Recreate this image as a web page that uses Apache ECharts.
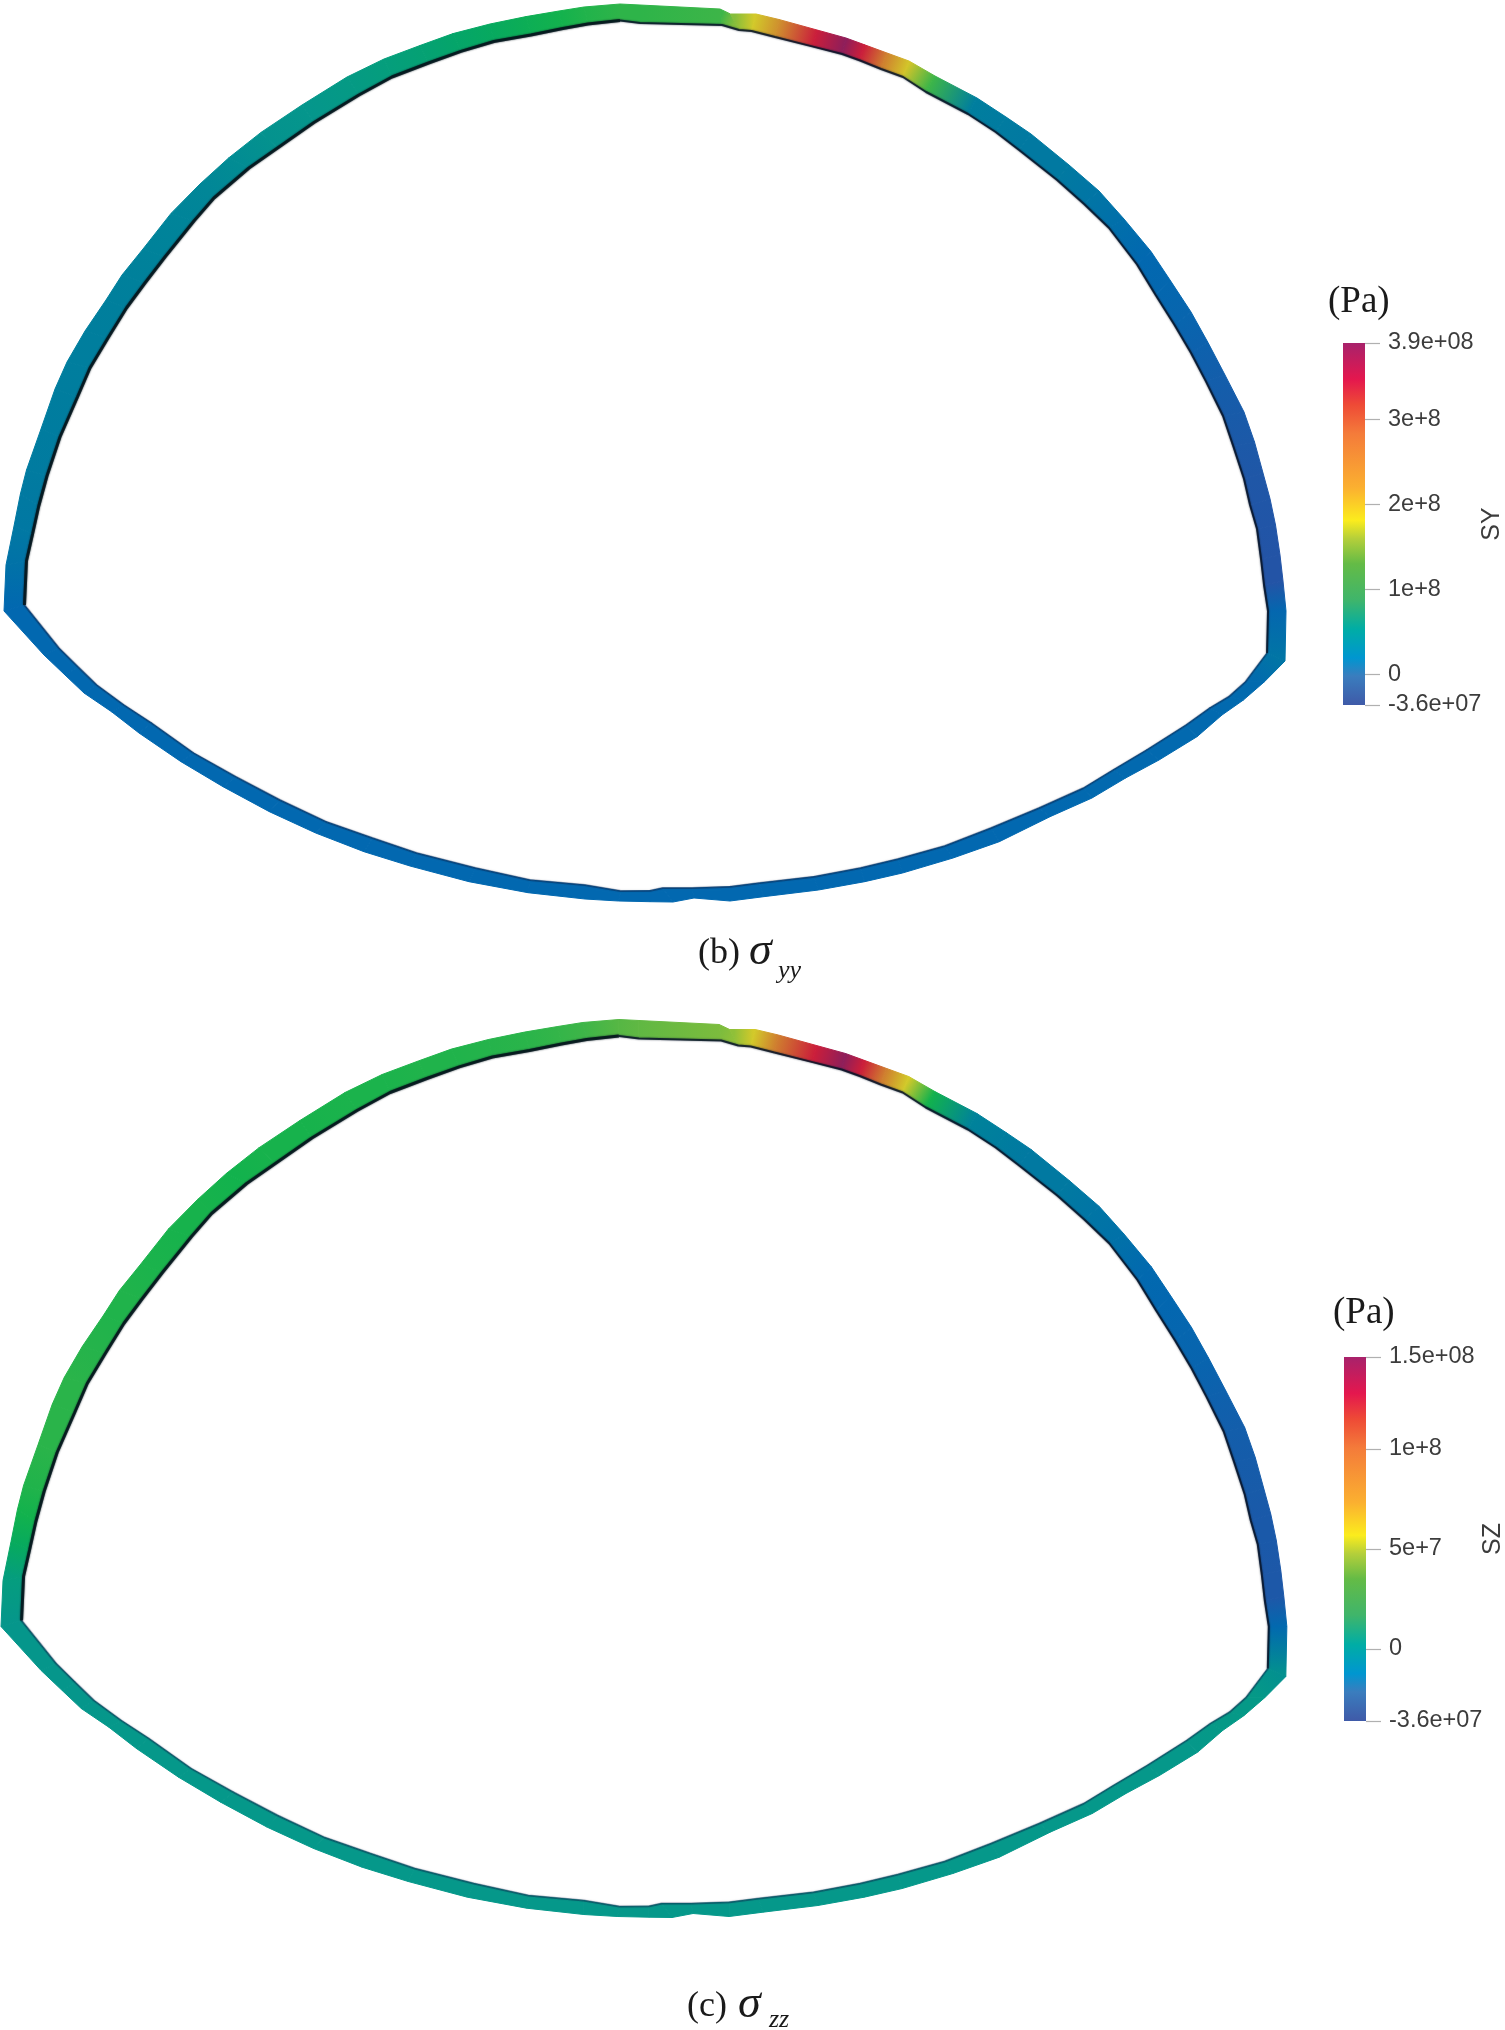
<!DOCTYPE html>
<html><head><meta charset="utf-8">
<style>html,body{margin:0;padding:0;background:#fff}#c{width:1505px;height:2030px}</style>
<script src="https://cdn.jsdelivr.net/npm/echarts@6/dist/echarts.min.js"></script>
</head><body><div id="c"></div>
<script>
// Ring cross-section: paired points on the outer and inner edge, clockwise from the left tip
const outerX=[4,6,14,20.4,26.5,41,55,67,85,106,122,143,171,200,228.6,261,302,347,384,420,453,490,526,559,584,620,
 640,720,730.5,756,779,817,846,864,887,909,935,977,1006,1031,1069,1099,1124,1151,1170,1191,1208,1225,1244,1254.5,1263,1270,1275.5,1280,1283,1286,1285,
 1264.5,1243.4,1222,1197,1159,1125.6,1092,1050,999.3,953,902.5,864.6,818.4,763.6,730,694,673,650,
 618.7,585,528,469,410,364,315.7,269.4,223,181,139,111.5,84,65,44];
const outerY=[611,565,526,494,470,429,389,362,331,300,275,249,213.4,184,158,132.4,105,77,59,45.5,33.6,24,16.6,11,7,4,
 5,9,14,14,19.5,30,38,44.6,53,61,76,98,117,134,165,191,219,251.5,280,312,342.6,375,412,442,473,498.7,525,555,581,611,661,
 681.7,700,715,736.7,760,778,798,816.7,841.7,858,873,881.7,890,896.7,901,898,902,901.7,
 901,899,892.7,881.7,866,851.7,833,811.7,786.7,761.7,733,711.7,693,675,655];
const innerX=[24.5,26.5,32.6,38.8,47,60,77.5,90,108,126.5,145,165,194,214,249,277.6,314,359,392,428.6,461,494,531,563,588,620,
 640,722,739,751.5,775,813,842,860,881,903,926,968,995.6,1019,1057,1084,1109,1137,1155.6,1174.5,1191,1206,1223,1233.4,1244,1250,1257,1261,1264,1268,1267,
 1245.5,1228.7,1209.7,1186,1146.6,1113,1083.5,1039,991,944.6,898,860.4,814,759.4,730,692,662.6,650,
 620.8,585,530,475.6,416.7,372.5,326,280,235.7,193.6,151.5,124,96.8,78,59];
const innerY=[605,561,534,506,476,437,397,368,338,308,283,257,221,198,168,148,122.5,95,77,63,51.4,41.5,35,28.5,24,20.5,
 23,25,30,31,37,46.6,54,60.5,69,77,92,114,132,150,180,204,228,264.5,295,325,353,381.6,416,446.6,479,505,529,559,585,611,653,
 681.7,696.7,708,725,750,770,788,808,828,846,859,868,876.7,883,886.7,888,888,890.7,
 891,885,880,868,853,838,821.7,800,776.7,753,723,705,685,666.7,648];

// Stress at those points, read through the colours (Pa)
const sigmaYY=[0,12e6,18e6,20e6,22e6,23e6,24e6,25e6,26e6,27e6,28e6,30e6,32e6,35e6,42e6,50e6,55e6,62e6,68e6,75e6,82e6,90e6,98e6,105e6,112e6,118e6,
 118e6,125e6,160e6,200e6,255e6,335e6,390e6,335e6,270e6,205e6,125e6,25e6,22e6,20e6,20e6,15e6,8e6,0,-2e6,-5e6,-10e6,-15e6,-20e6,-23e6,-26e6,-27e6,-28e6,-30e6,-30e6,-2e6,15e6,
 3e6,2e6,1e6,1e6,1e6,1e6,1e6,0,0,0,0,0,0,0,0,0,0,0,
 0,0,0,0,0,0,0,0,0,0,0,0,0,0,0];
const sigmaZZ=[3e6,8e6,18e6,24e6,27e6,29e6,29e6,29e6,28e6,27e6,27e6,26e6,25e6,25e6,24e6,25e6,25e6,26e6,26e6,27e6,27e6,28e6,29e6,31e6,33e6,38e6,
 40e6,46e6,50e6,65e6,95e6,122e6,146e6,122e6,95e6,65e6,24e6,-8e6,-10e6,-12e6,-12e6,-14e6,-16e6,-20e6,-21e6,-22e6,-23e6,-25e6,-27e6,-28e6,-29e6,-30e6,-30e6,-31e6,-31e6,-20e6,0,
 5e6,5e6,5e6,4e6,4e6,4e6,4e6,4e6,4e6,4e6,4e6,4e6,4e6,4e6,4e6,4e6,4e6,4e6,
 4e6,4e6,4e6,4e6,4e6,4e6,4e6,4e6,4e6,4e6,4e6,4e6,3e6,3e6,3e6];

// Colour bars
const yyRange=[-3.6e7,3.9e8];
const zzRange=[-3.6e7,1.46e8];
const yyTicks=[3.9e8,3e8,2e8,1e8,0,-3.6e7];
const yyTickLabels=['3.9e+08','3e+8','2e+8','1e+8','0','-3.6e+07'];
const zzTicks=[1.46e8,1e8,5e7,0,-3.6e7];
const zzTickLabels=['1.5e+08','1e+8','5e+7','0','-3.6e+07'];

// Colour ramps: ring colours as rendered with lighting, bar colours as in the legend
const ringStops=[0,.085,.155,.22,.29,.33,.42,.55,.7,.86,1];
const ringColors=['#2A50A4','#0268B0','#00829A','#05988A','#05A862','#12B24D','#62B843','#D2CB2A','#CF8B2E','#CF1E38','#8E1E5A'];
const barStops=[0,.08,.13,.21,.29,.39,.46,.51,.6,.75,.83,.9,1];
const barColors=['#3F5AA8','#3A7DBE','#0096D0','#00ADA5','#3FB56B','#64BB46','#B5CF3A','#FBEC1D','#FBB030','#F47B3A','#EE4A36','#E4174E','#A8226B'];

function ramp(t){
  t=Math.max(0,Math.min(1,t));
  for(let i=1;i<ringStops.length;i++){
    if(t<=ringStops[i]){
      const f=(t-ringStops[i-1])/(ringStops[i]-ringStops[i-1]);
      return echarts.color.lerp(f,[ringColors[i-1],ringColors[i]]);
    }
  }
  return ringColors[ringColors.length-1];
}
const n=outerX.length;
function rows(vals){
  return outerX.map((_,i)=>{const j=(i+1)%n;
    return [outerX[i],outerY[i],innerX[i],innerY[i],outerX[j],outerY[j],innerX[j],innerY[j],vals[i],vals[j]];});
}
function ringSeries(idx,vals,range){
  return {type:'custom',xAxisIndex:idx,yAxisIndex:idx,clip:false,silent:true,z:2,
    data:rows(vals),encode:{x:[0,2,4,6],y:[1,3,5,7]},
    renderItem:function(p,api){
      const P=k=>api.coord([api.value(k),api.value(k+1)]);
      const a=P(0),b=P(2),c=P(6),d=P(4);
      const t=v=>(v-range[0])/(range[1]-range[0]);
      const m0=[(a[0]+b[0])/2,(a[1]+b[1])/2],m1=[(c[0]+d[0])/2,(c[1]+d[1])/2];
      const g=new echarts.graphic.LinearGradient(m0[0],m0[1],m1[0],m1[1],
        [{offset:0,color:ramp(t(api.value(8)))},{offset:1,color:ramp(t(api.value(9)))}],true);
      return {type:'polygon',shape:{points:[a,d,c,b]},style:{fill:g,stroke:g,lineWidth:1}};
    }};
}
function edgeSeries(idx,pts,color,w){
  return {type:'line',xAxisIndex:idx,yAxisIndex:idx,data:pts,showSymbol:false,silent:true,z:3,clip:false,
    lineStyle:{color:color,width:w,shadowBlur:2,shadowColor:color}};
}
const innerPts=innerX.map((x,i)=>[x,innerY[i]]);
const topMid=innerX.indexOf(620);
const rightTip=innerX.indexOf(1267);
const edgeLeft=innerPts.slice(0,topMid+1);
const edgeRight=innerPts.slice(topMid,rightTip+1);
const edgeBottom=innerPts.slice(rightTip).concat([innerPts[0]]);
function edges(idx){
  return [edgeSeries(idx,edgeLeft,'rgba(5,22,28,0.88)',3),
          edgeSeries(idx,edgeRight,'rgba(8,20,40,0.8)',2),
          edgeSeries(idx,edgeBottom,'rgba(10,30,70,0.4)',2)];
}

function barSeries(idx,range){
  return {type:'custom',xAxisIndex:idx,yAxisIndex:idx,silent:true,z:2,clip:false,
    data:[[0,range[0],1,range[1]]],encode:{x:[0,2],y:[1,3]},
    renderItem:function(p,api){
      const a=api.coord([api.value(0),api.value(3)]),b=api.coord([api.value(2),api.value(1)]);
      return {type:'rect',shape:{x:a[0],y:a[1],width:b[0]-a[0],height:b[1]-a[1]},
        style:{fill:new echarts.graphic.LinearGradient(0,1,0,0,barStops.map((s,i)=>({offset:s,color:barColors[i]})))}};
    }};
}
function barAxis(idx,range,ticks,labels,name){
  return {gridIndex:idx,type:'value',position:'right',min:range[0],max:range[1],splitLine:{show:false},
    axisLine:{show:false,onZero:false},z:5,
    axisTick:{show:true,inside:false,length:15,customValues:ticks,lineStyle:{color:'#b0b0b0',width:1.2}},
    axisLabel:{show:true,margin:23,customValues:ticks,hideOverlap:false,showMinLabel:true,showMaxLabel:true,
      fontFamily:'Liberation Sans',fontSize:23.5,color:'#3c3c3c',align:'left',verticalAlign:'middle',padding:[3,0,0,0],
      formatter:v=>labels[ticks.indexOf(v)]},
    name:name,nameLocation:'middle',nameRotate:90,nameGap:127,nameMoveOverlap:false,
    nameTextStyle:{fontFamily:'Liberation Sans',fontSize:25,color:'#3c3c3c',verticalAlign:'middle'}};
}
function hiddenX(idx,min,max){return {gridIndex:idx,type:'value',min:min,max:max,show:false,splitLine:{show:false}};}
function hiddenRingY(idx){return {gridIndex:idx,type:'value',min:0,max:1000,inverse:true,show:false,splitLine:{show:false}};}
function txt(x,y,text,size,italic,color){
  return {type:'text',x:x,y:y,silent:true,style:{text:text,fill:color||'#1a1a1a',
    font:(italic?'italic ':'')+size+'px "Liberation Serif"',textVerticalAlign:'middle'}};
}

const chart=echarts.init(document.getElementById('c'),null,{renderer:'canvas'});
chart.setOption({
  animation:false,backgroundColor:'#fff',
  grid:[
    {left:0,top:0,width:1505,height:1000,outerBoundsMode:'none'},
    {left:-3,top:1015.5,width:1509.5,height:1000,outerBoundsMode:'none'},
    {left:1343,top:343,width:22,height:362,outerBoundsMode:'none'},
    {left:1344,top:1357,width:22,height:364,outerBoundsMode:'none'}
  ],
  xAxis:[hiddenX(0,0,1505),hiddenX(1,0,1505),hiddenX(2,0,1),hiddenX(3,0,1)],
  yAxis:[hiddenRingY(0),hiddenRingY(1),
    barAxis(2,yyRange,yyTicks,yyTickLabels,'SY'),
    barAxis(3,zzRange,zzTicks,zzTickLabels,'SZ')],
  series:[
    ringSeries(0,sigmaYY,yyRange)].concat(edges(0),[
    ringSeries(1,sigmaZZ,zzRange)],edges(1),[
    barSeries(2,yyRange),
    barSeries(3,zzRange)
  ]),
  graphic:[
    txt(1328,302,'(Pa)',37),
    txt(1333,1313,'(Pa)',37),
    txt(698,954,'(b)',36),
    txt(749,952,'σ',46,true),
    txt(778,971,'yy',26,true),
    txt(687,2007,'(c)',36),
    txt(738,2005,'σ',46,true),
    txt(769,2020,'zz',26,true)
  ]
});
</script></body></html>
